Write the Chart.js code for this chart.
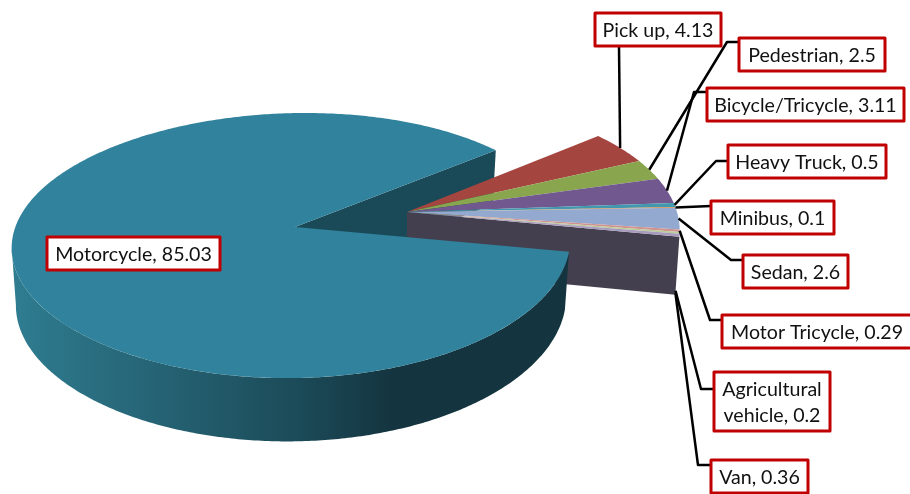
<!DOCTYPE html>
<html>
<head>
<meta charset="utf-8">
<title>Pie</title>
<script src="https://cdn.jsdelivr.net/npm/chart.js@4"></script>
<style>
    body { margin: 0; background: #fff; }
    canvas { display: block; }
</style>
</head>
<body>
<canvas id="myPieChart" width="910" height="494"></canvas>
<script>
const categories = ["Motorcycle", "Pick up", "Pedestrian", "Bicycle/Tricycle", "Heavy Truck", "Minibus", "Sedan", "Motor Tricycle", "Agricultural vehicle", "Van"];
const values = [85.03, 4.13, 2.5, 3.11, 0.5, 0.1, 2.6, 0.29, 0.2, 0.36];
const colors = ["#31829c", "#a5453f", "#89a54e", "#71588f", "#4198af", "#db843d", "#93a9cf", "#d19392", "#b9cd96", "#a99bbd"];

// label boxes: x1, y1, x2, y2, elbow, text lines
const labelLayout = [
    { box: [47, 237, 220, 270] },
    { box: [595, 13, 721, 46], path: [[619, 47]] },
    { box: [739, 38, 885, 71], path: [[727, 42], [739, 42]] },
    { box: [707, 88, 904, 121], path: [[694, 92], [707, 92]] },
    { box: [728, 145, 886, 178], path: [[716, 161], [728, 161]] },
    { box: [711, 201, 834, 234], path: [[711, 206]] },
    { box: [743, 255, 848, 288], path: [[731, 260], [743, 260]] },
    { box: [722, 315, 912, 348], path: [[710, 320], [722, 320]] },
    { box: [714, 372, 830, 431], path: [[701, 389], [714, 389]], lines: ["Agricultural", "vehicle, 0.2"], fromWall: true },
    { box: [711, 460, 808, 493], path: [[698, 465], [711, 465]], fromWall: true },
];

// 3d look
const flat = 0.481;
const persp = 0.14;
const depth = 57;
const mainShift = [-160, -20];
const restShift = [-48, -35];

// the big slice is drawn a bit wider at the back and left, like the original
function spread(shift, u, v) {
    return shift === mainShift ? 1.03 - 0.015 * u - 0.05 * v : 1;
}

// and its left side hangs a little lower
function sag(shift, u) {
    return shift === mainShift ? 4.5 * (u * u - u) : 0;
}

function top3d(arc, shift, a, r) {
    const u = Math.cos(a) * r, v = Math.sin(a) * r;
    const w = 1 - persp * v;
    const R = arc.outerRadius;
    return [arc.x + shift[0] + spread(shift, u, v) * R * u / w, arc.y + shift[1] + R * flat * v / w + sag(shift, u)];
}

function bottom3d(arc, shift, a, r) {
    const u = Math.cos(a) * r, v = Math.sin(a) * r;
    const w = 1 - persp * v;
    const R = arc.outerRadius;
    return [arc.x + shift[0] + 0.985 * spread(shift, u, v) * R * u / w, arc.y + shift[1] + R * flat * v / w + sag(shift, u) + depth / Math.pow(w, 0.7)];
}

function tracePoints(ctx, pts) {
    ctx.beginPath();
    pts.forEach((p, i) => (i ? ctx.lineTo(p[0], p[1]) : ctx.moveTo(p[0], p[1])));
    ctx.closePath();
}

function rim(fn, arc, shift, a0, a1) {
    const pts = [];
    const n = Math.max(2, Math.ceil(Math.abs(a1 - a0) * 90));
    for (let i = 0; i <= n; i++) pts.push(fn(arc, shift, a0 + (a1 - a0) * i / n, 1));
    return pts;
}

const pie3d = {
    id: "pie3d",
    beforeDatasetsDraw(chart) {
        const ctx = chart.ctx;
        const arcs = chart.getDatasetMeta(0).data;
        const main = arcs[0];
        const last = arcs[arcs.length - 1];

        ctx.save();

        // inner cut of the big slice
        tracePoints(ctx, [
            top3d(main, mainShift, main.endAngle, 0),
            top3d(main, mainShift, main.endAngle, 1),
            bottom3d(main, mainShift, main.endAngle, 1),
            bottom3d(main, mainShift, main.endAngle, 0),
        ]);
        ctx.fillStyle = "#1a4a58";
        ctx.fill();

        // cut side of the pulled out group
        tracePoints(ctx, [
            top3d(last, restShift, last.endAngle, 0),
            top3d(last, restShift, last.endAngle, 1),
            bottom3d(last, restShift, last.endAngle, 1),
            bottom3d(last, restShift, last.endAngle, 0),
        ]);
        ctx.fillStyle = "#443f4e";
        ctx.fill();

        // small slices
        arcs.slice(1).forEach((arc, i) => {
            tracePoints(ctx, [top3d(arc, restShift, arc.startAngle, 0)].concat(rim(top3d, arc, restShift, arc.startAngle, arc.endAngle)));
            ctx.fillStyle = colors[i + 1];
            ctx.fill();
        });

        // big slice outer wall
        const wallEnd = Math.PI * 175 / 180;
        const topEdge = rim(top3d, main, mainShift, main.startAngle, wallEnd);
        const botEdge = rim(bottom3d, main, mainShift, wallEnd, main.startAngle);
        tracePoints(ctx, topEdge.concat(botEdge));
        const grad = ctx.createLinearGradient(13, 0, 570, 0);
        grad.addColorStop(0, "#2f7c90");
        grad.addColorStop(0.5, "#1c4c5a");
        grad.addColorStop(0.68, "#143540");
        grad.addColorStop(1, "#143540");
        ctx.fillStyle = grad;
        ctx.fill();

        // big slice top
        tracePoints(ctx, [top3d(main, mainShift, main.startAngle, 0)].concat(rim(top3d, main, mainShift, main.startAngle, main.endAngle)));
        ctx.fillStyle = colors[0];
        ctx.fill();

        // leader lines
        ctx.strokeStyle = "#000";
        ctx.lineWidth = 2.5;
        ctx.lineJoin = "round";
        arcs.forEach((arc, i) => {
            const lab = labelLayout[i];
            if (!lab.path) return;
            const mid = (arc.startAngle + arc.endAngle) / 2;
            const start = (lab.fromWall ? bottom3d : top3d)(arc, restShift, mid, 1);
            ctx.beginPath();
            ctx.moveTo(start[0], start[1]);
            lab.path.forEach(p => ctx.lineTo(p[0], p[1]));
            ctx.stroke();
        });

        // label boxes
        ctx.font = '19.6px Lato, "Open Sans", sans-serif';
        ctx.textAlign = "center";
        ctx.textBaseline = "middle";
        arcs.forEach((arc, i) => {
            const lab = labelLayout[i];
            const [x1, y1, x2, y2] = lab.box;
            ctx.fillStyle = "#fff";
            ctx.fillRect(x1, y1, x2 - x1, y2 - y1);
            ctx.strokeStyle = "#c00000";
            ctx.lineWidth = 3;
            ctx.strokeRect(x1, y1, x2 - x1, y2 - y1);
            ctx.fillStyle = "#111";
            const lines = lab.lines || [categories[i] + ", " + values[i]];
            const cx = (x1 + Math.min(x2, 912)) / 2;
            lines.forEach((t, k) => {
                ctx.fillText(t, cx, (y1 + y2) / 2 + 1 + (k - (lines.length - 1) / 2) * 26);
            });
        });

        ctx.restore();
        return false;
    },
};

new Chart(document.getElementById("myPieChart"), {
    type: "pie",
    data: {
        labels: categories,
        datasets: [
            {
                data: values,
                backgroundColor: colors,
                borderWidth: 0,
                radius: 270,
            },
        ],
    },
    options: {
        responsive: false,
        animation: false,
        rotation: 100.7,
        plugins: {
            legend: { display: false },
            tooltip: { enabled: false },
        },
    },
    plugins: [pie3d],
});
</script>
</body>
</html>
